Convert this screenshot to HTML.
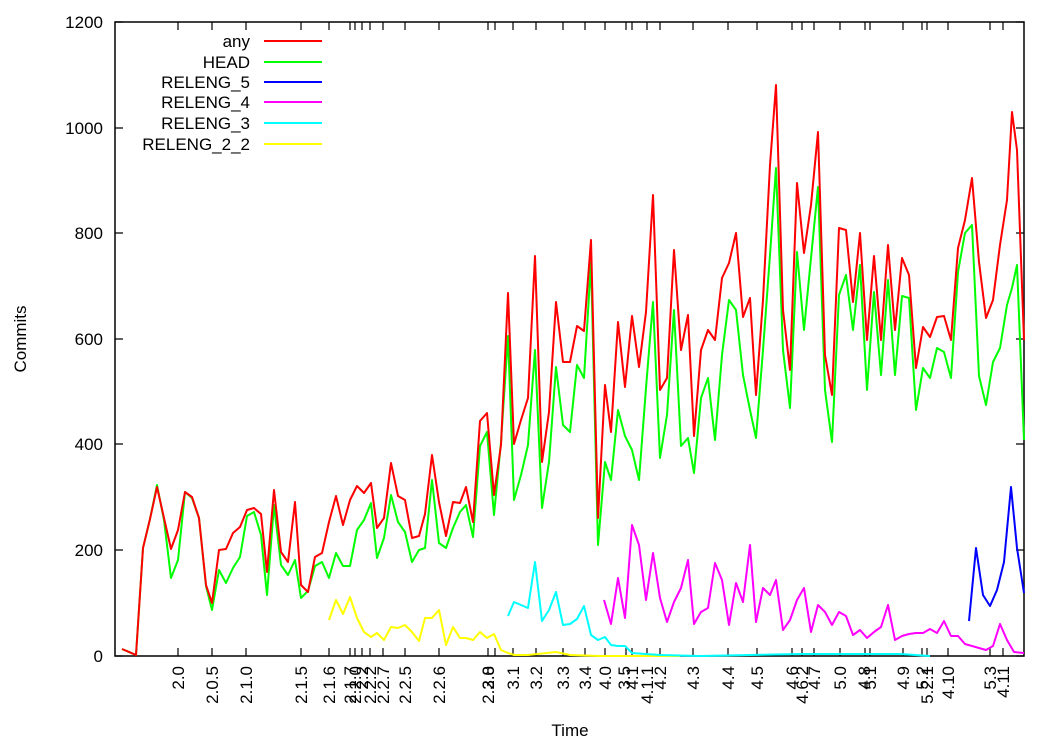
<!DOCTYPE html>
<html><head><meta charset="utf-8"><style>body{margin:0;background:#fff}svg{display:block}text{font-family:"Liberation Sans",sans-serif;font-size:17px;fill:#000}</style></head><body>
<svg width="1041" height="739" viewBox="0 0 1041 739">
<rect x="115" y="22" width="909" height="634" fill="none" stroke="#000" stroke-width="1.5"/>
<g stroke="#000" stroke-width="1.2">
<path d="M115 656h8M115 550h8M115 444h8M115 339h8M115 233h8M115 128h8M115 22h8M1024 656h-8M1024 550h-8M1024 444h-8M1024 339h-8M1024 233h-8M1024 128h-8M1024 22h-8"/>
<path id="xt" d="M178 656v-8M212 656v-8M246 656v-8M301 656v-8M329 656v-8M350 656v-8M355 656v-8M362 656v-8M370 656v-8M383 656v-8M405 656v-8M439 656v-8M488 656v-8M495 656v-8M513 656v-8M536 656v-8M563 656v-8M585 656v-8M605 656v-8M626 656v-8M632 656v-8M647 656v-8M660 656v-8M693 656v-8M728 656v-8M757 656v-8M792 656v-8M802 656v-8M814 656v-8M840 656v-8M865 656v-8M870 656v-8M903 656v-8M922 656v-8M927 656v-8M948 656v-8M990 656v-8M1003 656v-8"/>
<path d="M178 22v8M212 22v8M246 22v8M301 22v8M329 22v8M350 22v8M355 22v8M362 22v8M370 22v8M383 22v8M405 22v8M439 22v8M488 22v8M495 22v8M513 22v8M536 22v8M563 22v8M585 22v8M605 22v8M626 22v8M632 22v8M647 22v8M660 22v8M693 22v8M728 22v8M757 22v8M792 22v8M802 22v8M814 22v8M840 22v8M865 22v8M870 22v8M903 22v8M922 22v8M927 22v8M948 22v8M990 22v8M1003 22v8"/>
</g>
<g text-anchor="end">
<text x="103" y="662">0</text><text x="103" y="556">200</text><text x="103" y="450">400</text><text x="103" y="345">600</text><text x="103" y="239">800</text><text x="103" y="134">1000</text><text x="103" y="28">1200</text>
</g>
<g text-anchor="end">
<text transform="translate(184,666) rotate(-90)">2.0</text>
<text transform="translate(218,666) rotate(-90)">2.0.5</text>
<text transform="translate(252,666) rotate(-90)">2.1.0</text>
<text transform="translate(307,666) rotate(-90)">2.1.5</text>
<text transform="translate(335,666) rotate(-90)">2.1.6</text>
<text transform="translate(356,666) rotate(-90)">2.1.7</text>
<text transform="translate(361,666) rotate(-90)">2.2.0</text>
<text transform="translate(368,666) rotate(-90)">2.2</text>
<text transform="translate(376,666) rotate(-90)">2.2.2</text>
<text transform="translate(389,666) rotate(-90)">2.2.7</text>
<text transform="translate(411,666) rotate(-90)">2.2.5</text>
<text transform="translate(445,666) rotate(-90)">2.2.6</text>
<text transform="translate(494,666) rotate(-90)">2.2.8</text>
<text transform="translate(494,666) rotate(-90)">3.0</text>
<text transform="translate(519,666) rotate(-90)">3.1</text>
<text transform="translate(542,666) rotate(-90)">3.2</text>
<text transform="translate(569,666) rotate(-90)">3.3</text>
<text transform="translate(591,666) rotate(-90)">3.4</text>
<text transform="translate(611,666) rotate(-90)">4.0</text>
<text transform="translate(630,666) rotate(-90)">3.5</text>
<text transform="translate(638,666) rotate(-90)">4.1</text>
<text transform="translate(653,666) rotate(-90)">4.1.1</text>
<text transform="translate(666,666) rotate(-90)">4.2</text>
<text transform="translate(699,666) rotate(-90)">4.3</text>
<text transform="translate(734,666) rotate(-90)">4.4</text>
<text transform="translate(763,666) rotate(-90)">4.5</text>
<text transform="translate(798,666) rotate(-90)">4.6</text>
<text transform="translate(808,666) rotate(-90)">4.6.2</text>
<text transform="translate(820,666) rotate(-90)">4.7</text>
<text transform="translate(846,666) rotate(-90)">5.0</text>
<text transform="translate(870,666) rotate(-90)">4.8</text>
<text transform="translate(876,666) rotate(-90)">5.1</text>
<text transform="translate(909,666) rotate(-90)">4.9</text>
<text transform="translate(928,666) rotate(-90)">5.2</text>
<text transform="translate(933,666) rotate(-90)">5.2.1</text>
<text transform="translate(954,666) rotate(-90)">4.10</text>
<text transform="translate(996,666) rotate(-90)">5.3</text>
<text transform="translate(1009,666) rotate(-90)">4.11</text>
</g>
<text x="570" y="736" text-anchor="middle">Time</text>
<text transform="translate(26,339) rotate(-90)" text-anchor="middle">Commits</text>
<g text-anchor="end">
<text x="250" y="47">any</text><text x="250" y="68">HEAD</text><text x="250" y="88">RELENG_5</text><text x="250" y="108">RELENG_4</text><text x="250" y="129">RELENG_3</text><text x="250" y="150">RELENG_2_2</text>
</g>
<g stroke-width="2" fill="none" stroke-linejoin="round">
<path stroke="#f00" d="M264 41h58"/><path stroke="#0f0" d="M264 62h58"/><path stroke="#00f" d="M264 82h58"/><path stroke="#f0f" d="M264 102h58"/><path stroke="#0ff" d="M264 123h58"/><path stroke="#ff0" d="M264 144h58"/>
<polyline stroke="#ff0" points="329,620 336,600 343,614 350,597 357,618 364,632 371,637 377,633 384,640 391,627 398,628 405,625 412,632 419,641 425,618 432,618 439,610 446,645 453,627 460,638 466,638 473,640 480,632 487,638 494,634 501,650 508,653 514,655 528,655 556,652 570,655 600,656 680,656"/>
<polyline stroke="#0ff" points="508,616 514,602 521,605 528,608 535,562 542,621 549,610 556,592 563,625 570,624 577,619 584,606 591,635 598,640 605,637 611,645 618,646 625,646 632,653 660,655 700,656 800,654 900,654 930,656"/>
<polyline stroke="#f0f" points="604,600 611,624 618,578 625,618 632,525 639,545 646,600 653,553 660,598 667,622 674,602 681,588 688,560 694,624 701,612 708,608 715,563 722,580 729,625 736,583 743,602 750,545 756,622 763,588 770,595 776,580 783,630 790,620 797,600 804,588 811,632 818,605 825,612 832,625 839,612 846,616 853,635 860,630 867,638 874,632 881,627 888,605 895,640 902,636 909,634 916,633 923,633 930,629 937,633 944,621 951,636 958,636 965,644 972,646 979,648 986,650 993,646 1000,624 1007,640 1014,652 1024,653"/>
<polyline stroke="#00f" points="969,621 976,548 983,595 990,606 997,590 1004,562 1011,487 1017,548 1024,593"/>
<polyline stroke="#0f0" points="122,649 136,655 143,548 150,519 157,485 164,520 171,578 178,560 185,492 192,498 199,518 206,586 212,610 219,570 226,583 233,568 240,557 247,516 254,512 261,535 267,595 274,505 281,565 288,575 295,560 301,598 308,591 315,566 322,562 329,578 336,553 343,566 350,566 357,530 364,520 371,503 377,558 384,538 391,495 398,522 405,532 412,562 419,550 425,548 432,480 439,543 446,548 453,528 460,512 466,505 473,537 480,446 487,432 494,515 501,442 508,336 514,500 521,475 528,445 535,350 542,508 549,462 556,367 563,425 570,432 577,365 584,378 591,262 598,545 605,462 611,480 618,410 625,436 632,450 639,480 646,388 653,302 660,458 667,415 674,310 681,446 688,438 694,473 701,398 708,378 715,440 722,355 729,300 736,310 743,375 750,410 756,438 763,350 770,255 776,168 783,350 790,408 797,252 804,330 811,258 818,187 825,390 832,442 839,295 846,275 853,330 860,265 867,390 874,292 881,375 888,280 895,375 902,296 909,298 916,410 923,368 930,378 937,348 944,352 951,378 958,272 965,233 972,225 979,376 986,405 993,362 1000,348 1007,305 1012,288 1017,265 1024,440"/>
<polyline stroke="#f00" points="122,649 136,655 143,548 150,519 157,487 164,518 171,549 178,530 185,492 192,497 199,518 206,585 212,603 219,550 226,549 233,533 240,527 247,510 254,508 261,514 267,572 274,490 281,552 288,562 295,502 301,585 308,592 315,557 322,553 329,522 336,496 343,525 350,500 357,486 364,493 371,483 377,528 384,518 391,463 398,496 405,500 412,538 419,536 425,514 432,455 439,502 446,536 453,502 460,503 466,487 473,522 480,421 487,413 494,495 501,445 508,293 514,444 521,420 528,398 535,256 542,462 549,412 556,302 563,362 570,362 577,326 584,331 591,240 598,518 605,385 611,432 618,322 625,387 632,316 639,367 646,312 653,195 660,390 667,378 674,250 681,350 688,315 694,436 701,350 708,330 715,340 722,278 729,263 736,233 743,317 750,298 756,395 763,300 770,165 776,85 783,310 790,370 797,183 804,253 811,205 818,132 825,355 832,395 839,228 846,230 853,302 860,233 867,340 874,256 881,340 888,245 895,330 902,258 909,275 916,368 923,327 930,337 937,317 944,316 951,340 958,248 965,220 972,178 979,262 986,318 993,300 1000,245 1007,200 1012,112 1017,150 1024,340"/>
</g>
</svg>
</body></html>
